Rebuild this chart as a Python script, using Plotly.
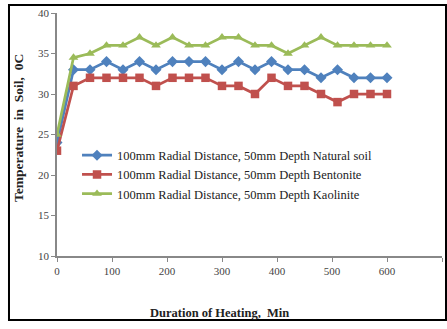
import plotly.graph_objects as go

minutes = [0, 30, 60, 90, 120, 150, 180, 210, 240, 270, 300, 330, 360, 390, 420, 450, 480, 510, 540, 570, 600]
natural_soil = [24, 33, 33, 34, 33, 34, 33, 34, 34, 34, 33, 34, 33, 34, 33, 33, 32, 33, 32, 32, 32]
bentonite = [23, 31, 32, 32, 32, 32, 31, 32, 32, 32, 31, 31, 30, 32, 31, 31, 30, 29, 30, 30, 30]
kaolinite = [25, 34.5, 35, 36, 36, 37, 36, 37, 36, 36, 37, 37, 36, 36, 35, 36, 37, 36, 36, 36, 36]

series_names = [
    "100mm Radial Distance, 50mm Depth Natural soil",
    "100mm Radial Distance, 50mm Depth Bentonite",
    "100mm Radial Distance, 50mm Depth Kaolinite",
]
x_ticks = [0, 100, 200, 300, 400, 500, 600, 700]
y_ticks = [10, 15, 20, 25, 30, 35, 40]

FONT = "Liberation Serif"

fig = go.Figure()
fig.add_trace(go.Scatter(x=minutes, y=natural_soil, name=series_names[0], mode="lines+markers",
                         line=dict(color="#4F81BD", width=2.75),
                         marker=dict(symbol="diamond", size=8.5, color="#4F81BD")))
fig.add_trace(go.Scatter(x=minutes, y=bentonite, name=series_names[1], mode="lines+markers",
                         line=dict(color="#C0504D", width=2.75),
                         marker=dict(symbol="square", size=8.5, color="#C0504D")))
fig.add_trace(go.Scatter(x=minutes, y=kaolinite, name=series_names[2], mode="lines+markers",
                         line=dict(color="#9BBB59", width=2.75),
                         marker=dict(symbol="triangle-up", size=8.5, color="#9BBB59")))

fig.update_layout(
    width=447, height=329,
    margin=dict(l=57, r=5, t=13, b=73),
    paper_bgcolor="white", plot_bgcolor="white",
    font=dict(family=FONT, size=11, color="#333"),
    showlegend=True,
    legend=dict(x=0.052, y=0.475, xanchor="left", yanchor="top",
                bgcolor="rgba(0,0,0,0)", font=dict(family=FONT, size=12.5, color="#222"),
                itemwidth=30, tracegroupgap=0),
    xaxis=dict(range=[0, 700], tickvals=x_ticks, showgrid=False, zeroline=False,
               showline=True, linecolor="#888", linewidth=1.5,
               ticks="outside", ticklen=4, tickcolor="#888",
               tickfont=dict(family=FONT, size=11, color="#444")),
    yaxis=dict(range=[10, 40], tickvals=y_ticks, showgrid=False, zeroline=False,
               showline=True, linecolor="#888", linewidth=1.5,
               ticks="outside", ticklen=4, tickcolor="#888",
               tickfont=dict(family=FONT, size=11, color="#444")),
    annotations=[
        dict(text="<b>Duration of Heating,  Min</b>", xref="paper", yref="paper",
             x=0.423, y=-0.235, xanchor="center", yanchor="middle", showarrow=False,
             font=dict(family=FONT, size=12.5, color="#222")),
        dict(text="<b>Temperature  in  Soil,  0C</b>", xref="paper", yref="paper",
             x=-0.10, y=0.525, xanchor="center", yanchor="middle", showarrow=False,
             textangle=-90, font=dict(family=FONT, size=13.5, color="#222")),
    ],
    shapes=[
        dict(type="rect", xref="paper", yref="paper",
             x0=-0.1247, x1=1.0104, y0=-0.263, y1=1.033,
             line=dict(color="black", width=2), fillcolor="rgba(0,0,0,0)", layer="below"),
    ],
)

fig.write_html("out.html")
